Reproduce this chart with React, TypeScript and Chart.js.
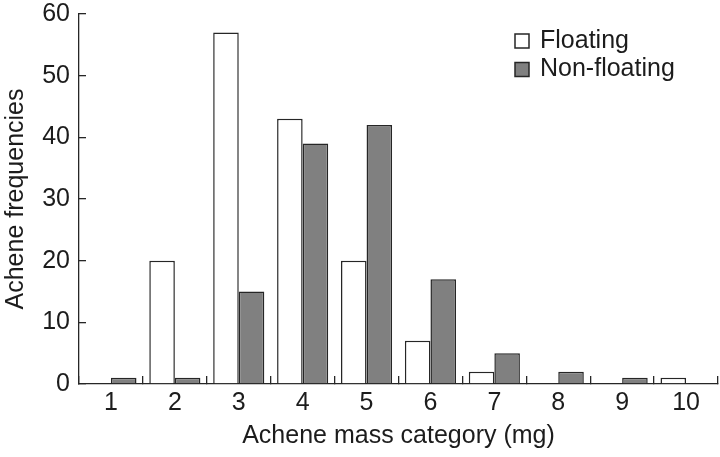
import { useEffect, useRef } from "react";
import { Chart, registerables } from "chart.js";

Chart.register(...registerables);

const categories = ["1", "2", "3", "4", "5", "6", "7", "8", "9", "10"];
const floating = [0, 20, 57, 43, 20, 7, 2, 0, 0, 1];
const nonFloating = [1, 1, 15, 39, 42, 17, 5, 2, 1, 0];
const yTickValues = [0, 10, 20, 30, 40, 50, 60];
const seriesNames = ["Floating", "Non-floating"];
const xTitle = "Achene mass category (mg)";
const yTitle = "Achene frequencies";

const FONT_FAMILY = "'Liberation Sans', Arial, Helvetica, sans-serif";
const INK = "#1c1c1c";
const AXIS = "#262626";

const legendPlugin = {
  id: "boxLegend",
  afterDraw(chart: any) {
    const ctx = chart.ctx as CanvasRenderingContext2D;
    const boxLeft = 515;
    const firstY = 41;
    const step = 28.5;
    const box = 14;
    ctx.save();
    chart.data.datasets.forEach((ds: any, i: number) => {
      const cy = firstY + i * step;
      ctx.fillStyle = ds.backgroundColor;
      ctx.fillRect(boxLeft, cy - box / 2, box, box);
      ctx.strokeStyle = AXIS;
      ctx.lineWidth = 1.5;
      ctx.strokeRect(boxLeft, cy - box / 2, box, box);
      ctx.fillStyle = INK;
      ctx.font = `25px ${FONT_FAMILY}`;
      ctx.textBaseline = "middle";
      ctx.textAlign = "left";
      ctx.fillText(ds.label, 540, cy);
    });
    ctx.restore();
  },
};

export default function App() {
  const canvasRef = useRef<HTMLCanvasElement | null>(null);

  useEffect(() => {
    const canvas = canvasRef.current;
    if (!canvas) return;
    const font = { family: FONT_FAMILY, size: 25 };
    const chart = new Chart(canvas, {
      type: "bar",
      data: {
        labels: categories,
        datasets: [
          {
            label: seriesNames[0],
            data: floating,
            backgroundColor: "#ffffff",
            borderColor: AXIS,
            borderWidth: 1.5,
            categoryPercentage: 0.8,
            barPercentage: 1.0,
          },
          {
            label: seriesNames[1],
            data: nonFloating,
            backgroundColor: "#808080",
            borderColor: AXIS,
            borderWidth: 1.5,
            categoryPercentage: 0.8,
            barPercentage: 1.0,
          },
        ],
      },
      options: {
        responsive: false,
        animation: false,
        devicePixelRatio: 1,
        layout: { padding: { top: 14, right: 2, left: 0, bottom: 0 } },
        plugins: {
          legend: { display: false },
          tooltip: { enabled: false },
        },
        scales: {
          x: {
            type: "category",
            offset: true,
            grid: {
              display: true,
              offset: true,
              drawOnChartArea: false,
              drawTicks: true,
              tickLength: -8,
              color: AXIS,
              lineWidth: 1.3,
            },
            border: { display: true, color: AXIS, width: 1.3 },
            ticks: {
              padding: 12,
              color: INK,
              font,
              maxRotation: 0,
              autoSkip: false,
            },
            title: {
              display: true,
              text: xTitle,
              color: INK,
              font,
              padding: { top: 0, bottom: 6 },
            },
            afterFit: (scale: any) => {
              scale.height = 73;
              scale.paddingLeft = 0;
              scale.paddingRight = 0;
            },
          },
          y: {
            min: 0,
            max: 60,
            afterBuildTicks: (scale: any) => {
              scale.ticks = yTickValues.map((v) => ({ value: v }));
            },
            grid: {
              display: true,
              drawOnChartArea: false,
              drawTicks: true,
              tickLength: -7,
              color: AXIS,
              lineWidth: 1.3,
            },
            border: { display: true, color: AXIS, width: 1.3 },
            ticks: {
              padding: 16,
              color: INK,
              font,
            },
            title: {
              display: true,
              text: yTitle,
              color: INK,
              font,
              padding: { top: 1, bottom: 0 },
            },
            afterFit: (scale: any) => {
              scale.width = 79;
              scale.paddingTop = 0;
              scale.paddingBottom = 0;
            },
          },
        },
      },
      plugins: [legendPlugin],
    } as any);
    return () => chart.destroy();
  }, []);

  return (
    <div style={{ position: "absolute", left: 0, top: 0, width: 720, height: 457, background: "#fff" }}>
      <canvas ref={canvasRef} width={720} height={457} />
    </div>
  );
}
